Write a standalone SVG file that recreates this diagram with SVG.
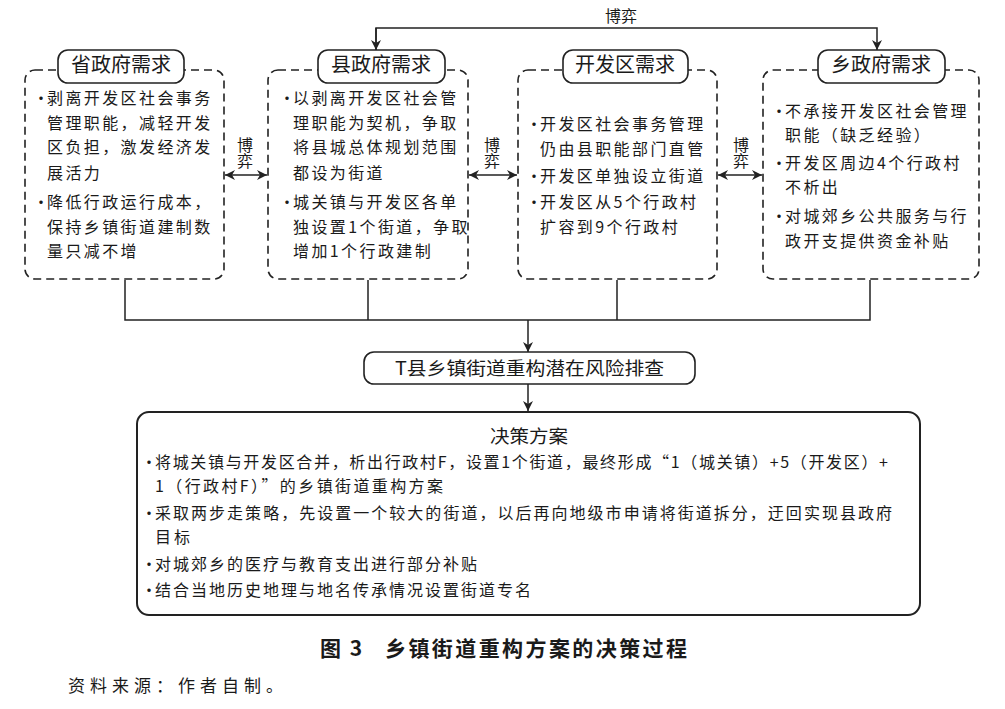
<svg xmlns="http://www.w3.org/2000/svg" width="1005" height="709" viewBox="0 0 1005 709">
<style>
text{font-family:"Noto Sans CJK SC","Liberation Sans",sans-serif;fill:#1a1a1a}
.dash{fill:none;stroke:#222;stroke-width:1.6;stroke-dasharray:8 5}
.pill{fill:#fff;stroke:#222;stroke-width:1.6}
.t{font-size:20px;text-anchor:middle}
.b{font-size:16px;letter-spacing:2.4px}
.bul{font-size:16px}
.lab{font-size:16px;text-anchor:middle}
.vlab{font-size:16px;writing-mode:vertical-rl}
.ln{fill:none;stroke:#222;stroke-width:1.5}
.bb{font-size:16px}
</style>
<defs>
<marker id="ah" viewBox="0 0 10 10" refX="10" refY="5" markerWidth="10" markerHeight="10" markerUnits="userSpaceOnUse" orient="auto-start-reverse">
<path d="M0,0 L10,5 L0,10 L3,5 Z" fill="#222"/>
</marker>
</defs>
<rect width="1005" height="709" fill="#fff"/>

<g id="connectors">
<path class="ln" d="M376,50 V28 H877 V50" marker-end="url(#ah)"/>
<path class="ln" d="M376,28 V50" marker-end="url(#ah)"/>
<line class="ln" x1="225" y1="175" x2="267" y2="175" marker-start="url(#ah)" marker-end="url(#ah)"/>
<line class="ln" x1="469" y1="175" x2="517" y2="175" marker-start="url(#ah)" marker-end="url(#ah)"/>
<line class="ln" x1="718" y1="175" x2="762" y2="175" marker-start="url(#ah)" marker-end="url(#ah)"/>
<path class="ln" d="M125,280 V320 H870 V280 M368,280 V320 M617,280 V320"/>
<line class="ln" x1="528" y1="320" x2="528" y2="352" marker-end="url(#ah)"/>
<line class="ln" x1="528" y1="384" x2="528" y2="411" marker-end="url(#ah)"/>
<text class="lab" x="621" y="22">博弈</text>
<text class="vlab" x="245" y="137">博弈</text>
<text class="vlab" x="492" y="137">博弈</text>
<text class="vlab" x="741" y="137">博弈</text>
</g>

<g id="node-province">
<rect class="dash" x="25" y="70" width="199" height="209" rx="10"/>
<rect class="pill" x="58" y="50" width="126" height="33" rx="10"/>
<text class="t" x="121" y="72">省政府需求</text>
<text class="bul" x="33" y="104">•</text>
<text class="b" x="47" y="104">剥离开发区社会事务</text>
<text class="b" x="47" y="129">管理职能，减轻开发</text>
<text class="b" x="47" y="153">区负担，激发经济发</text>
<text class="b" x="47" y="179">展活力</text>
<text class="bul" x="33" y="208">•</text>
<text class="b" x="47" y="208">降低行政运行成本，</text>
<text class="b" x="47" y="233">保持乡镇街道建制数</text>
<text class="b" x="47" y="257">量只减不增</text>
</g>

<g id="node-county">
<rect class="dash" x="268" y="70" width="200" height="209" rx="10"/>
<rect class="pill" x="318" y="50" width="127" height="33" rx="10"/>
<text class="t" x="381" y="72">县政府需求</text>
<text class="bul" x="279" y="104">•</text>
<text class="b" x="293" y="104">以剥离开发区社会管</text>
<text class="b" x="293" y="129">理职能为契机，争取</text>
<text class="b" x="293" y="153">将县城总体规划范围</text>
<text class="b" x="293" y="179">都设为街道</text>
<text class="bul" x="279" y="208">•</text>
<text class="b" x="293" y="208">城关镇与开发区各单</text>
<text class="b" x="293" y="233">独设置1个街道，争取</text>
<text class="b" x="293" y="257">增加1个行政建制</text>
</g>

<g id="node-devzone">
<rect class="dash" x="518" y="70" width="199" height="209" rx="10"/>
<rect class="pill" x="563" y="50" width="125" height="33" rx="10"/>
<text class="t" x="625" y="72">开发区需求</text>
<text class="bul" x="526" y="130">•</text>
<text class="b" x="540" y="130">开发区社会事务管理</text>
<text class="b" x="540" y="155">仍由县职能部门直管</text>
<text class="bul" x="526" y="182">•</text>
<text class="b" x="540" y="182">开发区单独设立街道</text>
<text class="bul" x="526" y="208">•</text>
<text class="b" x="540" y="208">开发区从5个行政村</text>
<text class="b" x="540" y="233">扩容到9个行政村</text>
</g>

<g id="node-township">
<rect class="dash" x="763" y="70" width="216" height="209" rx="10"/>
<rect class="pill" x="818" y="50" width="127" height="33" rx="10"/>
<text class="t" x="881" y="72">乡政府需求</text>
<text class="bul" x="771" y="117">•</text>
<text class="b" x="785" y="117">不承接开发区社会管理</text>
<text class="b" x="785" y="141">职能（缺乏经验）</text>
<text class="bul" x="771" y="169">•</text>
<text class="b" x="785" y="169">开发区周边4个行政村</text>
<text class="b" x="785" y="193">不析出</text>
<text class="bul" x="771" y="222">•</text>
<text class="b" x="785" y="222">对城郊乡公共服务与行</text>
<text class="b" x="785" y="247">政开支提供资金补贴</text>
</g>

<g id="node-risk">
<rect x="364" y="352" width="331" height="32" rx="10" fill="#fff" stroke="#222" stroke-width="1.6"/>
<text x="395" y="375" font-size="18" textLength="269" lengthAdjust="spacingAndGlyphs">T县乡镇街道重构潜在风险排查</text>
</g>

<g id="node-decision">
<rect x="137" y="412" width="783" height="203" rx="12" fill="#fff" stroke="#222" stroke-width="2"/>
<text x="490" y="443" font-size="18" textLength="78" lengthAdjust="spacingAndGlyphs">决策方案</text>
<text class="bb" x="141" y="468">•</text>
<text class="bb" x="155" y="468" textLength="733" lengthAdjust="spacing">将城关镇与开发区合并，析出行政村F，设置1个街道，最终形成“1（城关镇）+5（开发区）+</text>
<text class="bb" x="155" y="492" textLength="288" lengthAdjust="spacing">1（行政村F）”的乡镇街道重构方案</text>
<text class="bb" x="141" y="519">•</text>
<text class="bb" x="155" y="519" textLength="737" lengthAdjust="spacing">采取两步走策略，先设置一个较大的街道，以后再向地级市申请将街道拆分，迂回实现县政府</text>
<text class="bb" x="155" y="543" textLength="35" lengthAdjust="spacing">目标</text>
<text class="bb" x="141" y="570">•</text>
<text class="bb" x="155" y="570" textLength="322" lengthAdjust="spacing">对城郊乡的医疗与教育支出进行部分补贴</text>
<text class="bb" x="141" y="596">•</text>
<text class="bb" x="155" y="596" textLength="376" lengthAdjust="spacing">结合当地历史地理与地名传承情况设置街道专名</text>
</g>

<text x="320" y="656" font-size="21" font-weight="bold" letter-spacing="2">图 3</text>
<text x="385" y="656" font-size="21" font-weight="bold" textLength="302" lengthAdjust="spacing">乡镇街道重构方案的决策过程</text>
<text x="68" y="692" font-size="17" letter-spacing="5">资料来源：作者自制。</text>
</svg>
